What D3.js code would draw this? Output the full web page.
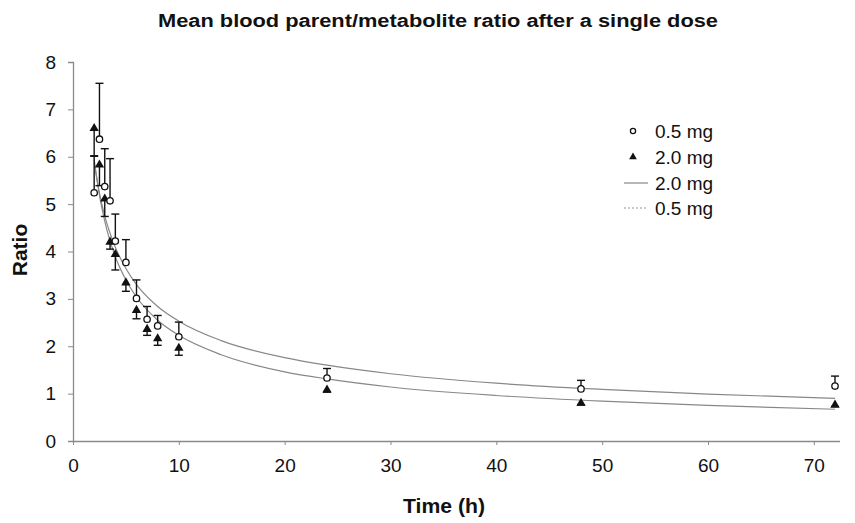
<!DOCTYPE html>
<html><head><meta charset="utf-8">
<script src="https://cdn.jsdelivr.net/npm/d3@7"></script>
<style>
html,body{margin:0;padding:0;background:#fff;}
svg{display:block;font-family:"Liberation Sans",Arial,sans-serif;}
</style></head>
<body><svg id="chart" width="855" height="523"></svg>
<script>
// ---- data ----
const times = [2, 2.5, 3, 3.5, 4, 5, 6, 7, 8, 10, 24, 48, 72];
const dose05 = [5.24, 6.37, 5.37, 5.07, 4.22, 3.77, 3.01, 2.57, 2.43, 2.20, 1.33, 1.10, 1.16];
const dose05Err = [0.77, 1.18, 0.80, 0.89, 0.57, 0.48, 0.39, 0.27, 0.22, 0.31, 0.20, 0.18, 0.21];
const dose20 = [6.60, 5.83, 5.11, 4.20, 3.94, 3.34, 2.76, 2.36, 2.16, 1.96, 1.08, 0.80, 0.76];
const dose20Err = [0.58, 0.44, 0.37, 0.15, 0.33, 0.18, 0.18, 0.13, 0.14, 0.15, 0.05, 0.04, 0.03];
const fitTimes = [2, 2.5, 3, 4, 5, 6, 8, 10, 14, 20, 24, 30, 40, 50, 60, 72];
const fitUpper = [5.87, 5.23, 4.75, 4.09, 3.64, 3.30, 2.84, 2.53, 2.12, 1.76, 1.60, 1.42, 1.22, 1.09, 0.99, 0.90];
const fitLower = [5.94, 5.19, 4.64, 3.89, 3.40, 3.04, 2.55, 2.23, 1.82, 1.46, 1.31, 1.14, 0.96, 0.84, 0.75, 0.67];
const xTicks = [0, 10, 20, 30, 40, 50, 60, 70];
const yTicks = [0, 1, 2, 3, 4, 5, 6, 7, 8];
const legendLabels = ["0.5 mg", "2.0 mg", "2.0 mg", "0.5 mg"];
const titleText = "Mean blood parent/metabolite ratio after a single dose";

// ---- chart ----
const svg = d3.select("#chart");
const x = d3.scaleLinear().domain([0, 72]).range([73, 835]);
const y = d3.scaleLinear().domain([0, 8]).range([441, 62]);
const axisColor = "#8a8a8a";

// fitted curves
const line = d3.line().x(d => x(d[0])).y(d => y(d[1])).curve(d3.curveMonotoneX);
svg.append("path").datum(fitTimes.map((t, i) => [t, fitUpper[i]]))
  .attr("d", line).attr("fill", "none").attr("stroke", "#888").attr("stroke-width", 1.2);
svg.append("path").datum(fitTimes.map((t, i) => [t, fitLower[i]]))
  .attr("d", line).attr("fill", "none").attr("stroke", "#888").attr("stroke-width", 1.2);

// axes
const yAxis = svg.append("g").attr("transform", `translate(${x(0)},0)`)
  .call(d3.axisLeft(y).tickValues(yTicks).tickSize(5).tickPadding(12).tickFormat(d3.format("d")));
const xAxis = svg.append("g").attr("transform", `translate(0,${y(0)})`)
  .call(d3.axisBottom(x).tickValues(xTicks).tickSize(4).tickPadding(14).tickFormat(d3.format("d")));
xAxis.select(".domain").attr("d", `M${x(0)},0.5H${x(72) + 5}`);
[xAxis, yAxis].forEach(g => {
  g.select(".domain").attr("stroke", axisColor).attr("stroke-width", 1.3);
  g.selectAll(".tick line").attr("stroke", axisColor);
  g.selectAll(".tick text").attr("fill", "#111").style("font-size", "19px")
    .style("font-family", '"Liberation Sans",Arial,sans-serif');
});

// error bars
const cap = 4;
function errBars(vals, errs, dir) {
  const g = svg.append("g").attr("stroke", "#111").attr("stroke-width", 1.4);
  times.forEach((t, i) => {
    const y0 = y(vals[i]), y1 = y(vals[i] + dir * errs[i]);
    g.append("line").attr("x1", x(t)).attr("x2", x(t)).attr("y1", y0).attr("y2", y1);
    g.append("line").attr("x1", x(t) - cap).attr("x2", x(t) + cap).attr("y1", y1).attr("y2", y1);
  });
}
errBars(dose05, dose05Err, 1);
errBars(dose20, dose20Err, -1);

// markers
const tri = d3.symbol().type(d3.symbolTriangle).size(38);
svg.append("g").selectAll("path").data(times).join("path")
  .attr("d", tri).attr("transform", (t, i) => `translate(${x(t)},${y(dose20[i])})`).attr("fill", "#111");
svg.append("g").selectAll("circle").data(times).join("circle")
  .attr("cx", t => x(t)).attr("cy", (t, i) => y(dose05[i])).attr("r", 3.2)
  .attr("fill", "#fff").attr("stroke", "#111").attr("stroke-width", 1.3);

// legend
const lg = svg.append("g").style("font-size", "19px").attr("fill", "#111");
const rows = [131, 157, 183, 208];
lg.append("circle").attr("cx", 633).attr("cy", rows[0]).attr("r", 2.6).attr("fill", "#fff").attr("stroke", "#111").attr("stroke-width", 1.3);
lg.append("path").attr("d", d3.symbol().type(d3.symbolTriangle).size(26)).attr("transform", `translate(633,${rows[1]})`).attr("fill", "#111");
lg.append("line").attr("x1", 624).attr("x2", 648).attr("y1", rows[2]).attr("y2", rows[2]).attr("stroke", "#888").attr("stroke-width", 1.2);
lg.append("line").attr("x1", 624).attr("x2", 648).attr("y1", rows[3]).attr("y2", rows[3]).attr("stroke", "#999").attr("stroke-width", 1).attr("stroke-dasharray", "2,2");
legendLabels.forEach((s, i) => {
  lg.append("text").attr("x", 655).attr("y", rows[i]).attr("dy", "0.36em").text(s);
});

// titles
svg.append("text").attr("x", 438).attr("y", 27).attr("text-anchor", "middle")
  .attr("textLength", 560).attr("lengthAdjust", "spacingAndGlyphs")
  .style("font-size", "18px").style("font-weight", "bold").attr("fill", "#111").text(titleText);
svg.append("text").attr("x", 444).attr("y", 513).attr("text-anchor", "middle")
  .attr("textLength", 82).attr("lengthAdjust", "spacingAndGlyphs")
  .style("font-size", "20px").style("font-weight", "bold").attr("fill", "#111").text("Time (h)");
svg.append("text").attr("transform", "translate(27,250) rotate(-90)").attr("text-anchor", "middle")
  .style("font-size", "21px").style("font-weight", "bold").attr("fill", "#111").text("Ratio");
</script></body></html>
